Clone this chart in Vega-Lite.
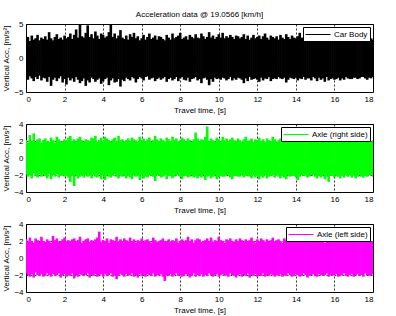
{
  "$schema": "https://vega.github.io/schema/vega-lite/v6.json",
  "background": "white",
  "padding": {"left": 2, "top": 10, "right": 5, "bottom": 2},
  "bounds": "flush",
  "spacing": 32,
  "config": {
    "font": "Liberation Sans",
    "view": {"stroke": "black", "strokeWidth": 1},
    "axis": {
      "labelFontSize": 8, "titleFontSize": 8, "titleFontWeight": "normal",
      "labelColor": "black", "titleColor": "black", "domain": false,
      "ticks": false, "tickSize": 0, "labelPadding": 3, "titlePadding": 3,
      "grid": true, "gridColor": "black", "gridDash": [2, 2], "gridOpacity": 1, "gridWidth": 0.8
    },
    "legend": {
      "orient": "top-right", "offset": 3, "strokeColor": "black", "fillColor": "white",
      "padding": 2, "symbolType": "M -1 0 L 4 0", "symbolSize": 100, "symbolStrokeWidth": 1,
      "labelOffset": 18, "labelFontSize": 8, "labelColor": "black", "title": null
    }
  },
  "datasets": {
    "acc": [
{"t":0.0,"bh":2.8,"bl":-2.9,"rh":2.1,"rl":-1.9,"lh":2.2,"ll":-1.8},
{"t":0.1,"bh":3.1,"bl":-3.2,"rh":1.8,"rl":-2.2,"lh":1.9,"ll":-2.0},
{"t":0.2,"bh":2.5,"bl":-2.7,"rh":2.7,"rl":-2.0,"lh":2.4,"ll":-2.2},
{"t":0.3,"bh":3.3,"bl":-3.0,"rh":2.0,"rl":-2.4,"lh":2.0,"ll":-1.9},
{"t":0.4,"bh":2.7,"bl":-3.4,"rh":2.9,"rl":-1.8,"lh":1.8,"ll":-2.3},
{"t":0.5,"bh":2.9,"bl":-2.8,"rh":1.9,"rl":-2.1,"lh":2.3,"ll":-1.7},
{"t":0.6,"bh":3.4,"bl":-3.1,"rh":2.2,"rl":-2.3,"lh":2.1,"ll":-2.0},
{"t":0.7,"bh":2.6,"bl":-2.6,"rh":2.3,"rl":-1.9,"lh":1.9,"ll":-2.1},
{"t":0.8,"bh":3.0,"bl":-3.3,"rh":1.8,"rl":-2.2,"lh":2.5,"ll":-1.9},
{"t":0.9,"bh":2.8,"bl":-2.9,"rh":2.1,"rl":-2.0,"lh":2.0,"ll":-2.2},
{"t":1.0,"bh":3.2,"bl":-3.0,"rh":2.3,"rl":-2.1,"lh":1.9,"ll":-2.1},
{"t":1.1,"bh":2.7,"bl":-3.5,"rh":2.0,"rl":-2.4,"lh":2.2,"ll":-1.8},
{"t":1.2,"bh":3.8,"bl":-2.8,"rh":1.9,"rl":-1.9,"lh":2.0,"ll":-2.0},
{"t":1.3,"bh":2.9,"bl":-4.1,"rh":2.4,"rl":-2.5,"lh":1.8,"ll":-2.2},
{"t":1.4,"bh":2.6,"bl":-3.2,"rh":2.1,"rl":-2.0,"lh":2.6,"ll":-1.9},
{"t":1.5,"bh":3.1,"bl":-2.9,"rh":1.8,"rl":-2.2,"lh":2.1,"ll":-2.1},
{"t":1.6,"bh":3.5,"bl":-3.4,"rh":2.5,"rl":-1.9,"lh":2.3,"ll":-2.0},
{"t":1.7,"bh":2.8,"bl":-3.0,"rh":2.2,"rl":-2.3,"lh":1.9,"ll":-1.8},
{"t":1.8,"bh":3.0,"bl":-2.7,"rh":2.0,"rl":-2.1,"lh":2.0,"ll":-2.3},
{"t":1.9,"bh":2.7,"bl":-3.6,"rh":1.9,"rl":-2.0,"lh":2.2,"ll":-2.0},
{"t":2.0,"bh":3.3,"bl":-3.1,"rh":2.2,"rl":-2.2,"lh":2.4,"ll":-1.9},
{"t":2.1,"bh":2.9,"bl":-3.9,"rh":2.1,"rl":-2.0,"lh":1.9,"ll":-2.2},
{"t":2.2,"bh":3.1,"bl":-2.9,"rh":2.4,"rl":-2.3,"lh":2.1,"ll":-2.0},
{"t":2.3,"bh":3.6,"bl":-3.3,"rh":2.6,"rl":-2.8,"lh":2.0,"ll":-2.1},
{"t":2.4,"bh":2.8,"bl":-3.0,"rh":2.0,"rl":-2.1,"lh":2.2,"ll":-1.8},
{"t":2.5,"bh":3.4,"bl":-3.5,"rh":2.2,"rl":-3.3,"lh":2.3,"ll":-2.4},
{"t":2.6,"bh":4.2,"bl":-2.8,"rh":1.9,"rl":-2.0,"lh":1.9,"ll":-2.0},
{"t":2.7,"bh":3.0,"bl":-3.2,"rh":2.3,"rl":-2.4,"lh":2.1,"ll":-2.2},
{"t":2.8,"bh":5.0,"bl":-3.7,"rh":2.5,"rl":-2.2,"lh":2.5,"ll":-1.9},
{"t":2.9,"bh":3.2,"bl":-3.4,"rh":2.1,"rl":-2.1,"lh":1.8,"ll":-2.0},
{"t":3.0,"bh":3.0,"bl":-3.0,"rh":1.9,"rl":-2.3,"lh":2.0,"ll":-2.1},
{"t":3.1,"bh":3.7,"bl":-4.1,"rh":2.2,"rl":-2.0,"lh":2.2,"ll":-2.0},
{"t":3.2,"bh":4.8,"bl":-3.3,"rh":2.1,"rl":-2.2,"lh":2.3,"ll":-1.8},
{"t":3.3,"bh":3.1,"bl":-3.6,"rh":2.0,"rl":-2.1,"lh":1.9,"ll":-2.3},
{"t":3.4,"bh":3.5,"bl":-2.9,"rh":2.4,"rl":-2.4,"lh":2.1,"ll":-2.0},
{"t":3.5,"bh":2.9,"bl":-3.1,"rh":2.3,"rl":-2.0,"lh":2.0,"ll":-2.1},
{"t":3.6,"bh":3.9,"bl":-3.5,"rh":2.6,"rl":-2.2,"lh":2.2,"ll":-1.9},
{"t":3.7,"bh":3.3,"bl":-3.2,"rh":1.9,"rl":-2.3,"lh":2.4,"ll":-2.2},
{"t":3.8,"bh":2.8,"bl":-3.0,"rh":2.1,"rl":-1.9,"lh":3.1,"ll":-2.0},
{"t":3.9,"bh":3.6,"bl":-3.8,"rh":2.4,"rl":-2.5,"lh":1.9,"ll":-1.9},
{"t":4.0,"bh":3.4,"bl":-3.4,"rh":2.0,"rl":-2.1,"lh":2.1,"ll":-2.2},
{"t":4.1,"bh":3.0,"bl":-3.1,"rh":2.5,"rl":-2.6,"lh":2.0,"ll":-1.9},
{"t":4.2,"bh":3.2,"bl":-2.9,"rh":2.3,"rl":-2.0,"lh":2.3,"ll":-2.1},
{"t":4.3,"bh":3.8,"bl":-4.0,"rh":2.1,"rl":-2.2,"lh":1.8,"ll":-2.0},
{"t":4.4,"bh":4.9,"bl":-3.3,"rh":1.9,"rl":-2.3,"lh":2.2,"ll":-1.8},
{"t":4.5,"bh":3.1,"bl":-3.0,"rh":2.2,"rl":-2.1,"lh":2.1,"ll":-2.2},
{"t":4.6,"bh":3.6,"bl":-3.6,"rh":2.4,"rl":-1.9,"lh":2.0,"ll":-2.0},
{"t":4.7,"bh":2.9,"bl":-3.5,"rh":2.0,"rl":-2.2,"lh":2.5,"ll":-2.5},
{"t":4.8,"bh":3.3,"bl":-3.1,"rh":2.6,"rl":-2.4,"lh":1.9,"ll":-2.1},
{"t":4.9,"bh":4.1,"bl":-4.2,"rh":2.1,"rl":-2.0,"lh":2.2,"ll":-1.9},
{"t":5.0,"bh":3.0,"bl":-3.2,"rh":2.2,"rl":-2.2,"lh":2.0,"ll":-2.0},
{"t":5.1,"bh":2.8,"bl":-3.4,"rh":1.9,"rl":-2.0,"lh":2.3,"ll":-2.2},
{"t":5.2,"bh":3.3,"bl":-2.9,"rh":2.1,"rl":-2.4,"lh":2.1,"ll":-1.9},
{"t":5.3,"bh":2.7,"bl":-3.1,"rh":2.3,"rl":-2.1,"lh":1.9,"ll":-2.1},
{"t":5.4,"bh":3.5,"bl":-3.3,"rh":2.0,"rl":-2.3,"lh":2.4,"ll":-2.0},
{"t":5.5,"bh":3.1,"bl":-2.8,"rh":2.4,"rl":-2.5,"lh":2.0,"ll":-1.8},
{"t":5.6,"bh":3.7,"bl":-3.0,"rh":2.2,"rl":-2.0,"lh":2.2,"ll":-2.2},
{"t":5.7,"bh":2.9,"bl":-3.6,"rh":2.1,"rl":-2.2,"lh":1.8,"ll":-2.0},
{"t":5.8,"bh":3.2,"bl":-3.1,"rh":1.9,"rl":-2.1,"lh":2.1,"ll":-2.3},
{"t":5.9,"bh":2.6,"bl":-2.8,"rh":2.5,"rl":-2.6,"lh":2.0,"ll":-1.9},
{"t":6.0,"bh":2.9,"bl":-3.0,"rh":2.1,"rl":-2.0,"lh":2.3,"ll":-2.1},
{"t":6.1,"bh":3.4,"bl":-3.3,"rh":2.3,"rl":-2.4,"lh":1.9,"ll":-2.0},
{"t":6.2,"bh":2.7,"bl":-2.8,"rh":2.0,"rl":-2.2,"lh":2.1,"ll":-2.2},
{"t":6.3,"bh":3.1,"bl":-2.7,"rh":2.2,"rl":-2.3,"lh":2.2,"ll":-1.9},
{"t":6.4,"bh":3.6,"bl":-3.2,"rh":2.4,"rl":-2.0,"lh":2.0,"ll":-2.0},
{"t":6.5,"bh":2.8,"bl":-3.0,"rh":1.9,"rl":-2.1,"lh":1.8,"ll":-2.1},
{"t":6.6,"bh":3.0,"bl":-2.9,"rh":2.1,"rl":-2.2,"lh":2.4,"ll":-1.8},
{"t":6.7,"bh":3.3,"bl":-3.4,"rh":2.6,"rl":-2.7,"lh":2.1,"ll":-2.2},
{"t":6.8,"bh":2.7,"bl":-3.1,"rh":2.2,"rl":-2.0,"lh":1.9,"ll":-2.0},
{"t":6.9,"bh":3.2,"bl":-2.9,"rh":2.0,"rl":-2.1,"lh":2.0,"ll":-2.1},
{"t":7.0,"bh":3.1,"bl":-3.2,"rh":2.3,"rl":-2.3,"lh":2.1,"ll":-1.9},
{"t":7.1,"bh":2.8,"bl":-3.0,"rh":2.1,"rl":-2.2,"lh":2.3,"ll":-2.2},
{"t":7.2,"bh":2.6,"bl":-2.8,"rh":1.9,"rl":-2.0,"lh":2.0,"ll":-2.7},
{"t":7.3,"bh":3.4,"bl":-3.5,"rh":2.4,"rl":-2.5,"lh":1.9,"ll":-2.0},
{"t":7.4,"bh":3.0,"bl":-3.1,"rh":2.2,"rl":-2.1,"lh":2.2,"ll":-2.1},
{"t":7.5,"bh":2.7,"bl":-2.9,"rh":2.0,"rl":-2.1,"lh":1.9,"ll":-1.9},
{"t":7.6,"bh":3.6,"bl":-3.3,"rh":2.5,"rl":-2.4,"lh":2.1,"ll":-2.2},
{"t":7.7,"bh":2.9,"bl":-3.1,"rh":2.1,"rl":-2.2,"lh":2.0,"ll":-2.0},
{"t":7.8,"bh":3.1,"bl":-2.8,"rh":2.3,"rl":-2.0,"lh":2.3,"ll":-1.8},
{"t":7.9,"bh":3.3,"bl":-3.4,"rh":1.9,"rl":-2.0,"lh":1.8,"ll":-2.1},
{"t":8.0,"bh":3.7,"bl":-3.0,"rh":2.1,"rl":-2.2,"lh":2.0,"ll":-2.0},
{"t":8.1,"bh":2.8,"bl":-2.8,"rh":2.4,"rl":-2.5,"lh":2.2,"ll":-2.2},
{"t":8.2,"bh":3.0,"bl":-3.2,"rh":2.2,"rl":-2.1,"lh":1.9,"ll":-2.1},
{"t":8.3,"bh":3.2,"bl":-3.3,"rh":2.0,"rl":-2.1,"lh":2.1,"ll":-1.9},
{"t":8.4,"bh":2.7,"bl":-2.9,"rh":2.3,"rl":-2.3,"lh":2.5,"ll":-2.0},
{"t":8.5,"bh":3.4,"bl":-3.5,"rh":2.1,"rl":-2.2,"lh":2.0,"ll":-2.3},
{"t":8.6,"bh":3.1,"bl":-3.1,"rh":1.9,"rl":-2.0,"lh":2.2,"ll":-2.1},
{"t":8.7,"bh":2.9,"bl":-3.0,"rh":2.2,"rl":-2.3,"lh":1.8,"ll":-1.8},
{"t":8.8,"bh":3.5,"bl":-2.8,"rh":3.0,"rl":-2.2,"lh":2.1,"ll":-2.2},
{"t":8.9,"bh":3.0,"bl":-3.3,"rh":2.3,"rl":-2.4,"lh":2.3,"ll":-2.0},
{"t":9.0,"bh":2.9,"bl":-3.1,"rh":2.0,"rl":-2.1,"lh":2.2,"ll":-2.1},
{"t":9.1,"bh":3.6,"bl":-3.7,"rh":2.2,"rl":-2.3,"lh":1.9,"ll":-1.9},
{"t":9.2,"bh":3.2,"bl":-3.0,"rh":2.1,"rl":-2.0,"lh":2.0,"ll":-2.2},
{"t":9.3,"bh":2.8,"bl":-2.9,"rh":2.5,"rl":-2.6,"lh":2.1,"ll":-2.0},
{"t":9.4,"bh":3.1,"bl":-3.2,"rh":3.7,"rl":-2.2,"lh":2.3,"ll":-2.1},
{"t":9.5,"bh":3.8,"bl":-4.0,"rh":2.0,"rl":-2.1,"lh":2.0,"ll":-1.8},
{"t":9.6,"bh":3.0,"bl":-3.1,"rh":2.3,"rl":-2.4,"lh":2.4,"ll":-2.0},
{"t":9.7,"bh":3.3,"bl":-3.5,"rh":2.1,"rl":-2.2,"lh":1.9,"ll":-2.2},
{"t":9.8,"bh":2.8,"bl":-2.9,"rh":1.9,"rl":-2.0,"lh":2.1,"ll":-2.0},
{"t":9.9,"bh":3.1,"bl":-3.1,"rh":2.4,"rl":-2.5,"lh":2.0,"ll":-1.9},
{"t":10.0,"bh":3.5,"bl":-3.0,"rh":2.2,"rl":-2.3,"lh":2.5,"ll":-2.2},
{"t":10.1,"bh":3.0,"bl":-3.2,"rh":2.0,"rl":-2.1,"lh":2.1,"ll":-2.0},
{"t":10.2,"bh":3.7,"bl":-2.9,"rh":2.5,"rl":-2.2,"lh":2.0,"ll":-1.9},
{"t":10.3,"bh":2.9,"bl":-3.0,"rh":2.1,"rl":-2.2,"lh":1.8,"ll":-2.1},
{"t":10.4,"bh":3.2,"bl":-3.3,"rh":2.3,"rl":-2.0,"lh":2.2,"ll":-2.0},
{"t":10.5,"bh":3.0,"bl":-3.1,"rh":1.9,"rl":-2.0,"lh":2.1,"ll":-2.2},
{"t":10.6,"bh":3.4,"bl":-2.8,"rh":2.2,"rl":-2.3,"lh":2.3,"ll":-1.8},
{"t":10.7,"bh":3.1,"bl":-3.3,"rh":2.4,"rl":-2.5,"lh":2.0,"ll":-2.0},
{"t":10.8,"bh":2.8,"bl":-3.0,"rh":2.1,"rl":-2.1,"lh":1.9,"ll":-2.1},
{"t":10.9,"bh":3.3,"bl":-3.2,"rh":2.0,"rl":-2.1,"lh":2.2,"ll":-2.3},
{"t":11.0,"bh":3.2,"bl":-2.9,"rh":2.3,"rl":-2.2,"lh":2.0,"ll":-2.0},
{"t":11.1,"bh":2.9,"bl":-3.0,"rh":2.1,"rl":-2.2,"lh":2.3,"ll":-1.9},
{"t":11.2,"bh":3.1,"bl":-3.2,"rh":1.9,"rl":-2.0,"lh":2.1,"ll":-2.2},
{"t":11.3,"bh":3.5,"bl":-3.7,"rh":2.2,"rl":-2.3,"lh":1.9,"ll":-2.0},
{"t":11.4,"bh":2.8,"bl":-3.0,"rh":2.5,"rl":-2.1,"lh":2.2,"ll":-2.1},
{"t":11.5,"bh":3.3,"bl":-3.4,"rh":2.0,"rl":-2.1,"lh":2.0,"ll":-1.8},
{"t":11.6,"bh":2.7,"bl":-2.8,"rh":2.1,"rl":-2.2,"lh":2.1,"ll":-2.3},
{"t":11.7,"bh":3.0,"bl":-3.2,"rh":2.3,"rl":-2.4,"lh":2.4,"ll":-2.0},
{"t":11.8,"bh":3.4,"bl":-3.1,"rh":1.9,"rl":-2.0,"lh":2.0,"ll":-2.1},
{"t":11.9,"bh":2.9,"bl":-3.0,"rh":2.2,"rl":-2.3,"lh":1.8,"ll":-1.9},
{"t":12.0,"bh":3.1,"bl":-3.2,"rh":2.1,"rl":-2.1,"lh":2.2,"ll":-2.2},
{"t":12.1,"bh":3.3,"bl":-3.5,"rh":2.4,"rl":-2.5,"lh":2.0,"ll":-2.0},
{"t":12.2,"bh":2.8,"bl":-2.9,"rh":2.0,"rl":-2.1,"lh":2.3,"ll":-2.1},
{"t":12.3,"bh":3.2,"bl":-3.3,"rh":2.2,"rl":-2.3,"lh":2.1,"ll":-1.8},
{"t":12.4,"bh":3.6,"bl":-3.0,"rh":1.9,"rl":-2.0,"lh":1.9,"ll":-2.2},
{"t":12.5,"bh":3.0,"bl":-3.1,"rh":2.3,"rl":-2.4,"lh":2.2,"ll":-2.0},
{"t":12.6,"bh":2.7,"bl":-2.8,"rh":2.1,"rl":-2.2,"lh":2.0,"ll":-2.1},
{"t":12.7,"bh":3.3,"bl":-3.4,"rh":2.0,"rl":-2.1,"lh":2.1,"ll":-1.9},
{"t":12.8,"bh":3.1,"bl":-3.1,"rh":2.5,"rl":-2.0,"lh":2.4,"ll":-2.0},
{"t":12.9,"bh":2.9,"bl":-3.0,"rh":2.2,"rl":-2.3,"lh":1.9,"ll":-2.2},
{"t":13.0,"bh":3.2,"bl":-3.1,"rh":1.9,"rl":-2.0,"lh":2.1,"ll":-2.0},
{"t":13.1,"bh":2.7,"bl":-2.8,"rh":2.1,"rl":-2.2,"lh":2.2,"ll":-2.1},
{"t":13.2,"bh":3.4,"bl":-3.0,"rh":2.3,"rl":-2.4,"lh":2.0,"ll":-1.9},
{"t":13.3,"bh":3.0,"bl":-3.1,"rh":2.0,"rl":-2.1,"lh":1.8,"ll":-2.2},
{"t":13.4,"bh":2.8,"bl":-2.9,"rh":2.2,"rl":-2.3,"lh":2.3,"ll":-2.0},
{"t":13.5,"bh":3.5,"bl":-3.6,"rh":2.4,"rl":-2.5,"lh":2.1,"ll":-2.1},
{"t":13.6,"bh":3.1,"bl":-3.2,"rh":1.9,"rl":-2.0,"lh":2.6,"ll":-1.8},
{"t":13.7,"bh":2.8,"bl":-2.9,"rh":2.1,"rl":-2.2,"lh":2.0,"ll":-2.0},
{"t":13.8,"bh":3.3,"bl":-3.0,"rh":2.3,"rl":-2.1,"lh":2.2,"ll":-2.2},
{"t":13.9,"bh":3.0,"bl":-3.1,"rh":2.0,"rl":-2.1,"lh":1.9,"ll":-2.1},
{"t":14.0,"bh":2.9,"bl":-2.9,"rh":2.2,"rl":-2.3,"lh":2.0,"ll":-1.9},
{"t":14.1,"bh":3.2,"bl":-3.3,"rh":2.5,"rl":-2.6,"lh":2.1,"ll":-2.0},
{"t":14.2,"bh":3.7,"bl":-3.0,"rh":2.1,"rl":-2.2,"lh":2.3,"ll":-2.2},
{"t":14.3,"bh":3.0,"bl":-3.1,"rh":1.9,"rl":-2.0,"lh":1.9,"ll":-2.1},
{"t":14.4,"bh":2.8,"bl":-2.8,"rh":2.3,"rl":-2.1,"lh":2.2,"ll":-1.8},
{"t":14.5,"bh":3.1,"bl":-3.2,"rh":2.0,"rl":-2.1,"lh":2.0,"ll":-2.0},
{"t":14.6,"bh":3.4,"bl":-3.0,"rh":2.2,"rl":-2.3,"lh":2.1,"ll":-2.3},
{"t":14.7,"bh":2.9,"bl":-3.0,"rh":2.1,"rl":-2.2,"lh":2.2,"ll":-2.1},
{"t":14.8,"bh":3.2,"bl":-3.3,"rh":2.4,"rl":-2.0,"lh":1.9,"ll":-2.0},
{"t":14.9,"bh":2.7,"bl":-2.8,"rh":1.9,"rl":-2.0,"lh":2.0,"ll":-1.9},
{"t":15.0,"bh":3.0,"bl":-3.0,"rh":2.1,"rl":-2.2,"lh":2.3,"ll":-2.1},
{"t":15.1,"bh":3.3,"bl":-3.4,"rh":2.3,"rl":-2.4,"lh":1.9,"ll":-2.2},
{"t":15.2,"bh":2.9,"bl":-2.9,"rh":2.0,"rl":-2.1,"lh":2.0,"ll":-1.9},
{"t":15.3,"bh":3.1,"bl":-3.2,"rh":2.2,"rl":-2.3,"lh":2.2,"ll":-2.0},
{"t":15.4,"bh":2.7,"bl":-3.0,"rh":1.9,"rl":-2.0,"lh":2.1,"ll":-2.1},
{"t":15.5,"bh":3.4,"bl":-3.5,"rh":2.4,"rl":-2.5,"lh":1.8,"ll":-2.0},
{"t":15.6,"bh":3.0,"bl":-2.8,"rh":2.1,"rl":-2.2,"lh":2.2,"ll":-1.8},
{"t":15.7,"bh":3.2,"bl":-3.3,"rh":2.2,"rl":-2.8,"lh":2.0,"ll":-2.2},
{"t":15.8,"bh":2.8,"bl":-3.1,"rh":2.3,"rl":-2.1,"lh":2.4,"ll":-2.0},
{"t":15.9,"bh":2.9,"bl":-3.0,"rh":2.0,"rl":-2.1,"lh":2.1,"ll":-2.1},
{"t":16.0,"bh":3.3,"bl":-3.2,"rh":2.2,"rl":-2.3,"lh":2.0,"ll":-2.0},
{"t":16.1,"bh":3.0,"bl":-3.1,"rh":1.9,"rl":-2.0,"lh":2.2,"ll":-1.9},
{"t":16.2,"bh":2.9,"bl":-2.9,"rh":2.1,"rl":-2.2,"lh":2.1,"ll":-2.2},
{"t":16.3,"bh":3.2,"bl":-3.3,"rh":2.3,"rl":-2.4,"lh":1.9,"ll":-2.1},
{"t":16.4,"bh":2.8,"bl":-3.0,"rh":2.0,"rl":-2.1,"lh":2.3,"ll":-2.0},
{"t":16.5,"bh":3.1,"bl":-3.2,"rh":2.2,"rl":-2.3,"lh":2.0,"ll":-1.8},
{"t":16.6,"bh":3.4,"bl":-2.8,"rh":2.4,"rl":-2.0,"lh":2.2,"ll":-2.1},
{"t":16.7,"bh":2.9,"bl":-3.0,"rh":2.1,"rl":-2.2,"lh":2.1,"ll":-2.2},
{"t":16.8,"bh":2.7,"bl":-3.1,"rh":1.9,"rl":-2.0,"lh":1.9,"ll":-2.0},
{"t":16.9,"bh":3.0,"bl":-3.1,"rh":2.2,"rl":-2.3,"lh":2.0,"ll":-1.9},
{"t":17.0,"bh":3.1,"bl":-2.9,"rh":2.0,"rl":-2.1,"lh":2.2,"ll":-2.2},
{"t":17.1,"bh":2.8,"bl":-2.9,"rh":2.3,"rl":-2.4,"lh":2.0,"ll":-2.0},
{"t":17.2,"bh":3.2,"bl":-3.1,"rh":2.1,"rl":-2.2,"lh":2.3,"ll":-1.9},
{"t":17.3,"bh":2.9,"bl":-3.0,"rh":1.9,"rl":-2.0,"lh":2.1,"ll":-2.1},
{"t":17.4,"bh":3.3,"bl":-2.8,"rh":2.4,"rl":-2.2,"lh":1.9,"ll":-2.0},
{"t":17.5,"bh":2.7,"bl":-2.8,"rh":2.2,"rl":-2.3,"lh":2.2,"ll":-2.2},
{"t":17.6,"bh":3.0,"bl":-3.0,"rh":2.0,"rl":-2.1,"lh":2.0,"ll":-1.8},
{"t":17.7,"bh":3.1,"bl":-3.2,"rh":2.1,"rl":-2.2,"lh":2.1,"ll":-2.0},
{"t":17.8,"bh":2.8,"bl":-2.9,"rh":2.3,"rl":-2.0,"lh":2.2,"ll":-2.1},
{"t":17.9,"bh":2.9,"bl":-3.0,"rh":1.9,"rl":-2.0,"lh":1.9,"ll":-2.0},
{"t":18.0,"bh":2.7,"bl":-2.8,"rh":2.1,"rl":-2.2,"lh":2.0,"ll":-1.9}
    ]
  },
  "resolve": {"scale": {"color": "independent", "y": "independent"}, "legend": {"color": "independent"}},
  "vconcat": [
    {
      "width": 347, "height": 68,
      "title": {"text": "Acceleration data @ 19.0566 [km/h]", "fontSize": 8, "fontWeight": "normal", "offset": 1, "color": "black"},
      "data": {"name": "acc"},
      "mark": {"type": "rule", "clip": true, "strokeWidth": 2.6},
      "encoding": {
        "x": {"field": "t", "type": "quantitative", "scale": {"domain": [0, 18], "nice": false}, "axis": {"values": [0,2,4,6,8,10,12,14,16,18], "title": "Travel time, [s]"}},
        "y": {"field": "bl", "type": "quantitative", "scale": {"domain": [-5, 5], "nice": false}, "axis": {"values": [-5, 0, 5], "title": "Vertical Acc, [m/s²]"}},
        "y2": {"field": "bh"},
        "color": {"datum": "Car Body", "scale": {"range": ["black"]}, "legend": {"symbolStrokeWidth": 1, "encode": {"symbols": {"update": {"strokeWidth": {"value": 1}}}}}}
      }
    },
    {
      "width": 347, "height": 68,
      "data": {"name": "acc"},
      "mark": {"type": "rule", "clip": true, "strokeWidth": 2.6},
      "encoding": {
        "x": {"field": "t", "type": "quantitative", "scale": {"domain": [0, 18], "nice": false}, "axis": {"values": [0,2,4,6,8,10,12,14,16,18], "title": "Travel time, [s]"}},
        "y": {"field": "rl", "type": "quantitative", "scale": {"domain": [-4, 4], "nice": false}, "axis": {"values": [-4, -2, 0, 2, 4], "title": "Vertical Acc, [m/s²]"}},
        "y2": {"field": "rh"},
        "color": {"datum": "Axle (right side)", "scale": {"range": ["#00ff00"]}, "legend": {"symbolStrokeWidth": 1, "encode": {"symbols": {"update": {"strokeWidth": {"value": 1}}}}}}
      }
    },
    {
      "width": 347, "height": 68,
      "data": {"name": "acc"},
      "mark": {"type": "rule", "clip": true, "strokeWidth": 2.6},
      "encoding": {
        "x": {"field": "t", "type": "quantitative", "scale": {"domain": [0, 18], "nice": false}, "axis": {"values": [0,2,4,6,8,10,12,14,16,18], "title": "Travel time, [s]"}},
        "y": {"field": "ll", "type": "quantitative", "scale": {"domain": [-4, 4], "nice": false}, "axis": {"values": [-4, -2, 0, 2, 4], "title": "Vertical Acc, [m/s²]"}},
        "y2": {"field": "lh"},
        "color": {"datum": "Axle (left side)", "scale": {"range": ["#ff00ff"]}, "legend": {"symbolStrokeWidth": 1, "encode": {"symbols": {"update": {"strokeWidth": {"value": 1}}}}}}
      }
    }
  ]
}
